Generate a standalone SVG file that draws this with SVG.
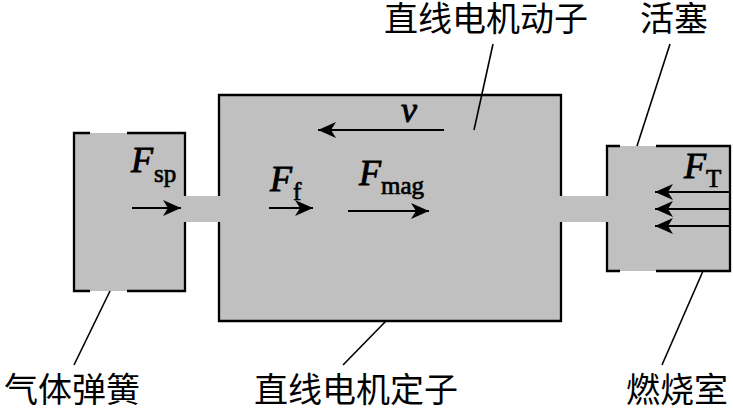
<svg xmlns="http://www.w3.org/2000/svg" width="733" height="409" viewBox="0 0 733 409">
<style>
.g{fill:#c0c0c0;stroke:none}
.e{fill:none;stroke:#000;stroke-width:2.3}
.l{fill:none;stroke:#000;stroke-width:1.6}
.a{fill:none;stroke:#000;stroke-width:2}
.c{font-family:"Noto Sans CJK SC",sans-serif;font-size:34px;fill:#000}
.f{font-family:"Liberation Serif",serif;font-size:36px;font-style:italic;fill:#000;stroke:#000;stroke-width:.9}
.s{font-family:"Liberation Serif",serif;font-size:25px;fill:#000;stroke:#000;stroke-width:.7}
</style>
<defs>
<marker id="ah" markerUnits="userSpaceOnUse" markerWidth="20" markerHeight="16" refX="18" refY="8" orient="auto">
<path d="M0,0 L18,8 L0,16 L5,8 Z" fill="#000"/>
</marker>
</defs>
<g id="spring">
<rect class="g" x="74" y="133" width="111" height="158"/>
<path class="e" d="M90,133H74V291H90M127,133H185V196M185,222V291H127"/>
</g>
<g id="stator">
<rect class="g" x="219" y="95" width="342" height="226"/>
<path class="e" d="M219,196V95H561V196M561,222V321H219V222"/>
</g>
<g id="rod">
<rect class="g" x="184" y="196" width="36" height="26"/>
<rect class="g" x="560" y="196" width="48" height="26"/>
</g>
<g id="piston">
<rect class="g" x="607" y="146" width="123" height="125"/>
<path class="e" d="M620,146H607V196M607,222V271H620M656,146H730V271H656"/>
</g>
<g id="connectors">
<path class="l" d="M110,291L74,365"/>
<path class="l" d="M474,130L493,44"/>
<path class="l" d="M637,146L670,44"/>
<path class="l" d="M386,321L343,365"/>
<path class="l" d="M703,271L662,365"/>
<path class="a" marker-end="url(#ah)" d="M132,208H181"/>
<path class="a" marker-end="url(#ah)" d="M269,208H313"/>
<path class="a" marker-end="url(#ah)" d="M348,211H429"/>
<path class="a" marker-end="url(#ah)" d="M444,130H318"/>
<path class="a" marker-end="url(#ah)" d="M730,192H655"/>
<path class="a" marker-end="url(#ah)" d="M730,209H655"/>
<path class="a" marker-end="url(#ah)" d="M730,226H655"/>
</g>
<g id="labels">
<text class="c" x="384" y="31">直线电机动子</text>
<text class="c" x="640" y="31">活塞</text>
<text class="c" x="4" y="402">气体弹簧</text>
<text class="c" x="254" y="402">直线电机定子</text>
<text class="c" x="626" y="402">燃烧室</text>
<text class="f" x="131" y="172">F</text><text class="s" x="154" y="182">sp</text>
<text class="f" x="270" y="191">F</text><text class="s" x="293" y="200">f</text>
<text class="f" x="359" y="185">F</text><text class="s" x="381" y="194">mag</text>
<text class="f" x="401" y="122">v</text>
<text class="f" x="684" y="178">F</text><text class="s" x="706" y="187">T</text>
</g>
</svg>
